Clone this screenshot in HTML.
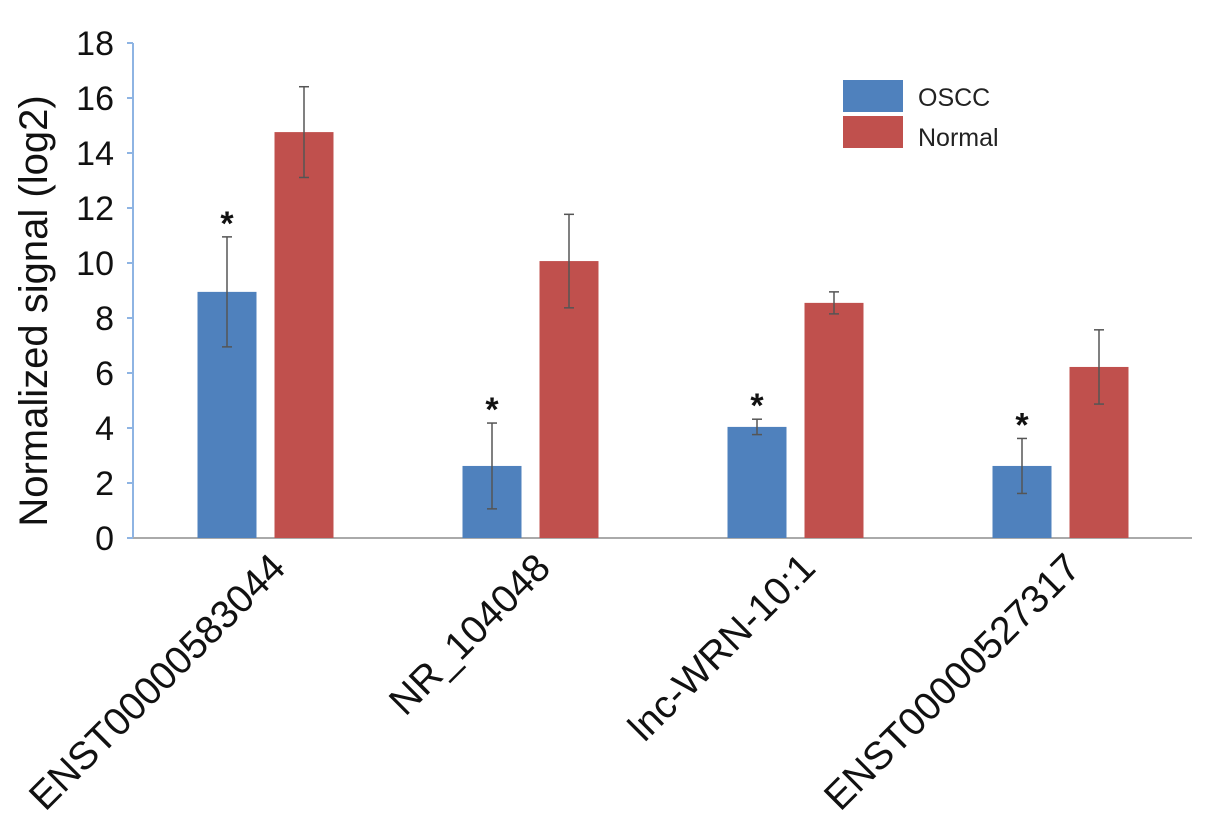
<!DOCTYPE html>
<html><head><meta charset="utf-8"><style>
html,body{margin:0;padding:0;background:#fff;}
svg{display:block;font-family:"Liberation Sans",Arial,sans-serif;}
</style></head><body>
<svg id="chart" width="1205" height="834" viewBox="0 0 1205 834">
<g id="axes"></g><g id="bars"></g>
<g>
<rect x="843" y="80" width="60" height="32" fill="#4f81bd"/>
<text x="918" y="106" font-size="25" fill="#222">OSCC</text>
<rect x="843" y="116" width="60" height="32" fill="#c0504d"/>
<text x="918" y="146" font-size="25" fill="#222">Normal</text>
</g>
<text transform="translate(47,311) rotate(-90)" text-anchor="middle" font-size="40" fill="#111">Normalized signal (log2)</text>
</svg>
<script>
const categories=["ENST00000583044","NR_104048","lnc-WRN-10:1","ENST00000527317"];
const osccValues=[8.95,2.62,4.04,2.62];
const osccErrors=[2.0,1.56,0.28,1.0];
const normalValues=[14.76,10.07,8.55,6.22];
const normalErrors=[1.65,1.7,0.4,1.35];
const significant=[true,true,true,true];
const yTicks=[0,2,4,6,8,10,12,14,16,18];

const NS="http://www.w3.org/2000/svg";
const y0=538,pxPerUnit=27.5;
function yScale(v){return y0-v*pxPerUnit;}
const groupStart=133,groupWidth=265;
function groupCenter(i){return groupStart+groupWidth*(i+0.5);}
function mk(tag,attrs,parent){const e=document.createElementNS(NS,tag);for(const k in attrs)e.setAttribute(k,attrs[k]);parent.appendChild(e);return e;}
const axes=document.getElementById('axes'),bars=document.getElementById('bars');
let e=mk('line',{x1:133,y1:yScale(18),x2:133,y2:y0,stroke:'#8eb4e3','stroke-width':2},axes);


e=mk('line',{x1:133,y1:y0,x2:1192,y2:y0,stroke:'#aaa','stroke-width':2},axes);


yTicks.forEach(t=>{
 const l=mk('line',{x1:127,x2:133,y1:yScale(t),y2:yScale(t),stroke:'#8eb4e3','stroke-width':2},axes);
 
 
 const tx=mk('text',{x:114,y:yScale(t)+12,'text-anchor':'end','font-size':34,fill:'#111'},axes);
 tx.textContent=t;
 
 
});
function bar(x,v,err,color,name){
 const r=mk('rect',{x:x,y:yScale(v),width:59,height:y0-yScale(v),fill:color},bars);
 
 
 const cx=x+29.5;
 const g=mk('g',{stroke:'#555','stroke-width':1.5},bars);
 
 
 mk('line',{x1:cx,x2:cx,y1:yScale(v+err),y2:yScale(v-err)},g);
 mk('line',{x1:cx-5,x2:cx+5,y1:yScale(v+err),y2:yScale(v+err)},g);
 mk('line',{x1:cx-5,x2:cx+5,y1:yScale(v-err),y2:yScale(v-err)},g);
}
categories.forEach((c,i)=>{
 const gc=groupCenter(i);
 bar(gc-68,osccValues[i],osccErrors[i],'#4f81bd','bar-oscc-'+i);
 bar(gc+9,normalValues[i],normalErrors[i],'#c0504d','bar-normal-'+i);
 if(significant[i]){
  const s=mk('text',{x:gc-38.5,y:yScale(osccValues[i]+osccErrors[i])-2,'text-anchor':'middle','font-size':34,'font-weight':'bold',fill:'#111'},bars);
  s.textContent='*';
  
  
 }
 const t=mk('text',{transform:`translate(${gc+22},570) rotate(-45)`,'text-anchor':'end','font-size':39,fill:'#111'},bars);
 t.textContent=c;
 
 
});
</script>
</body></html>
